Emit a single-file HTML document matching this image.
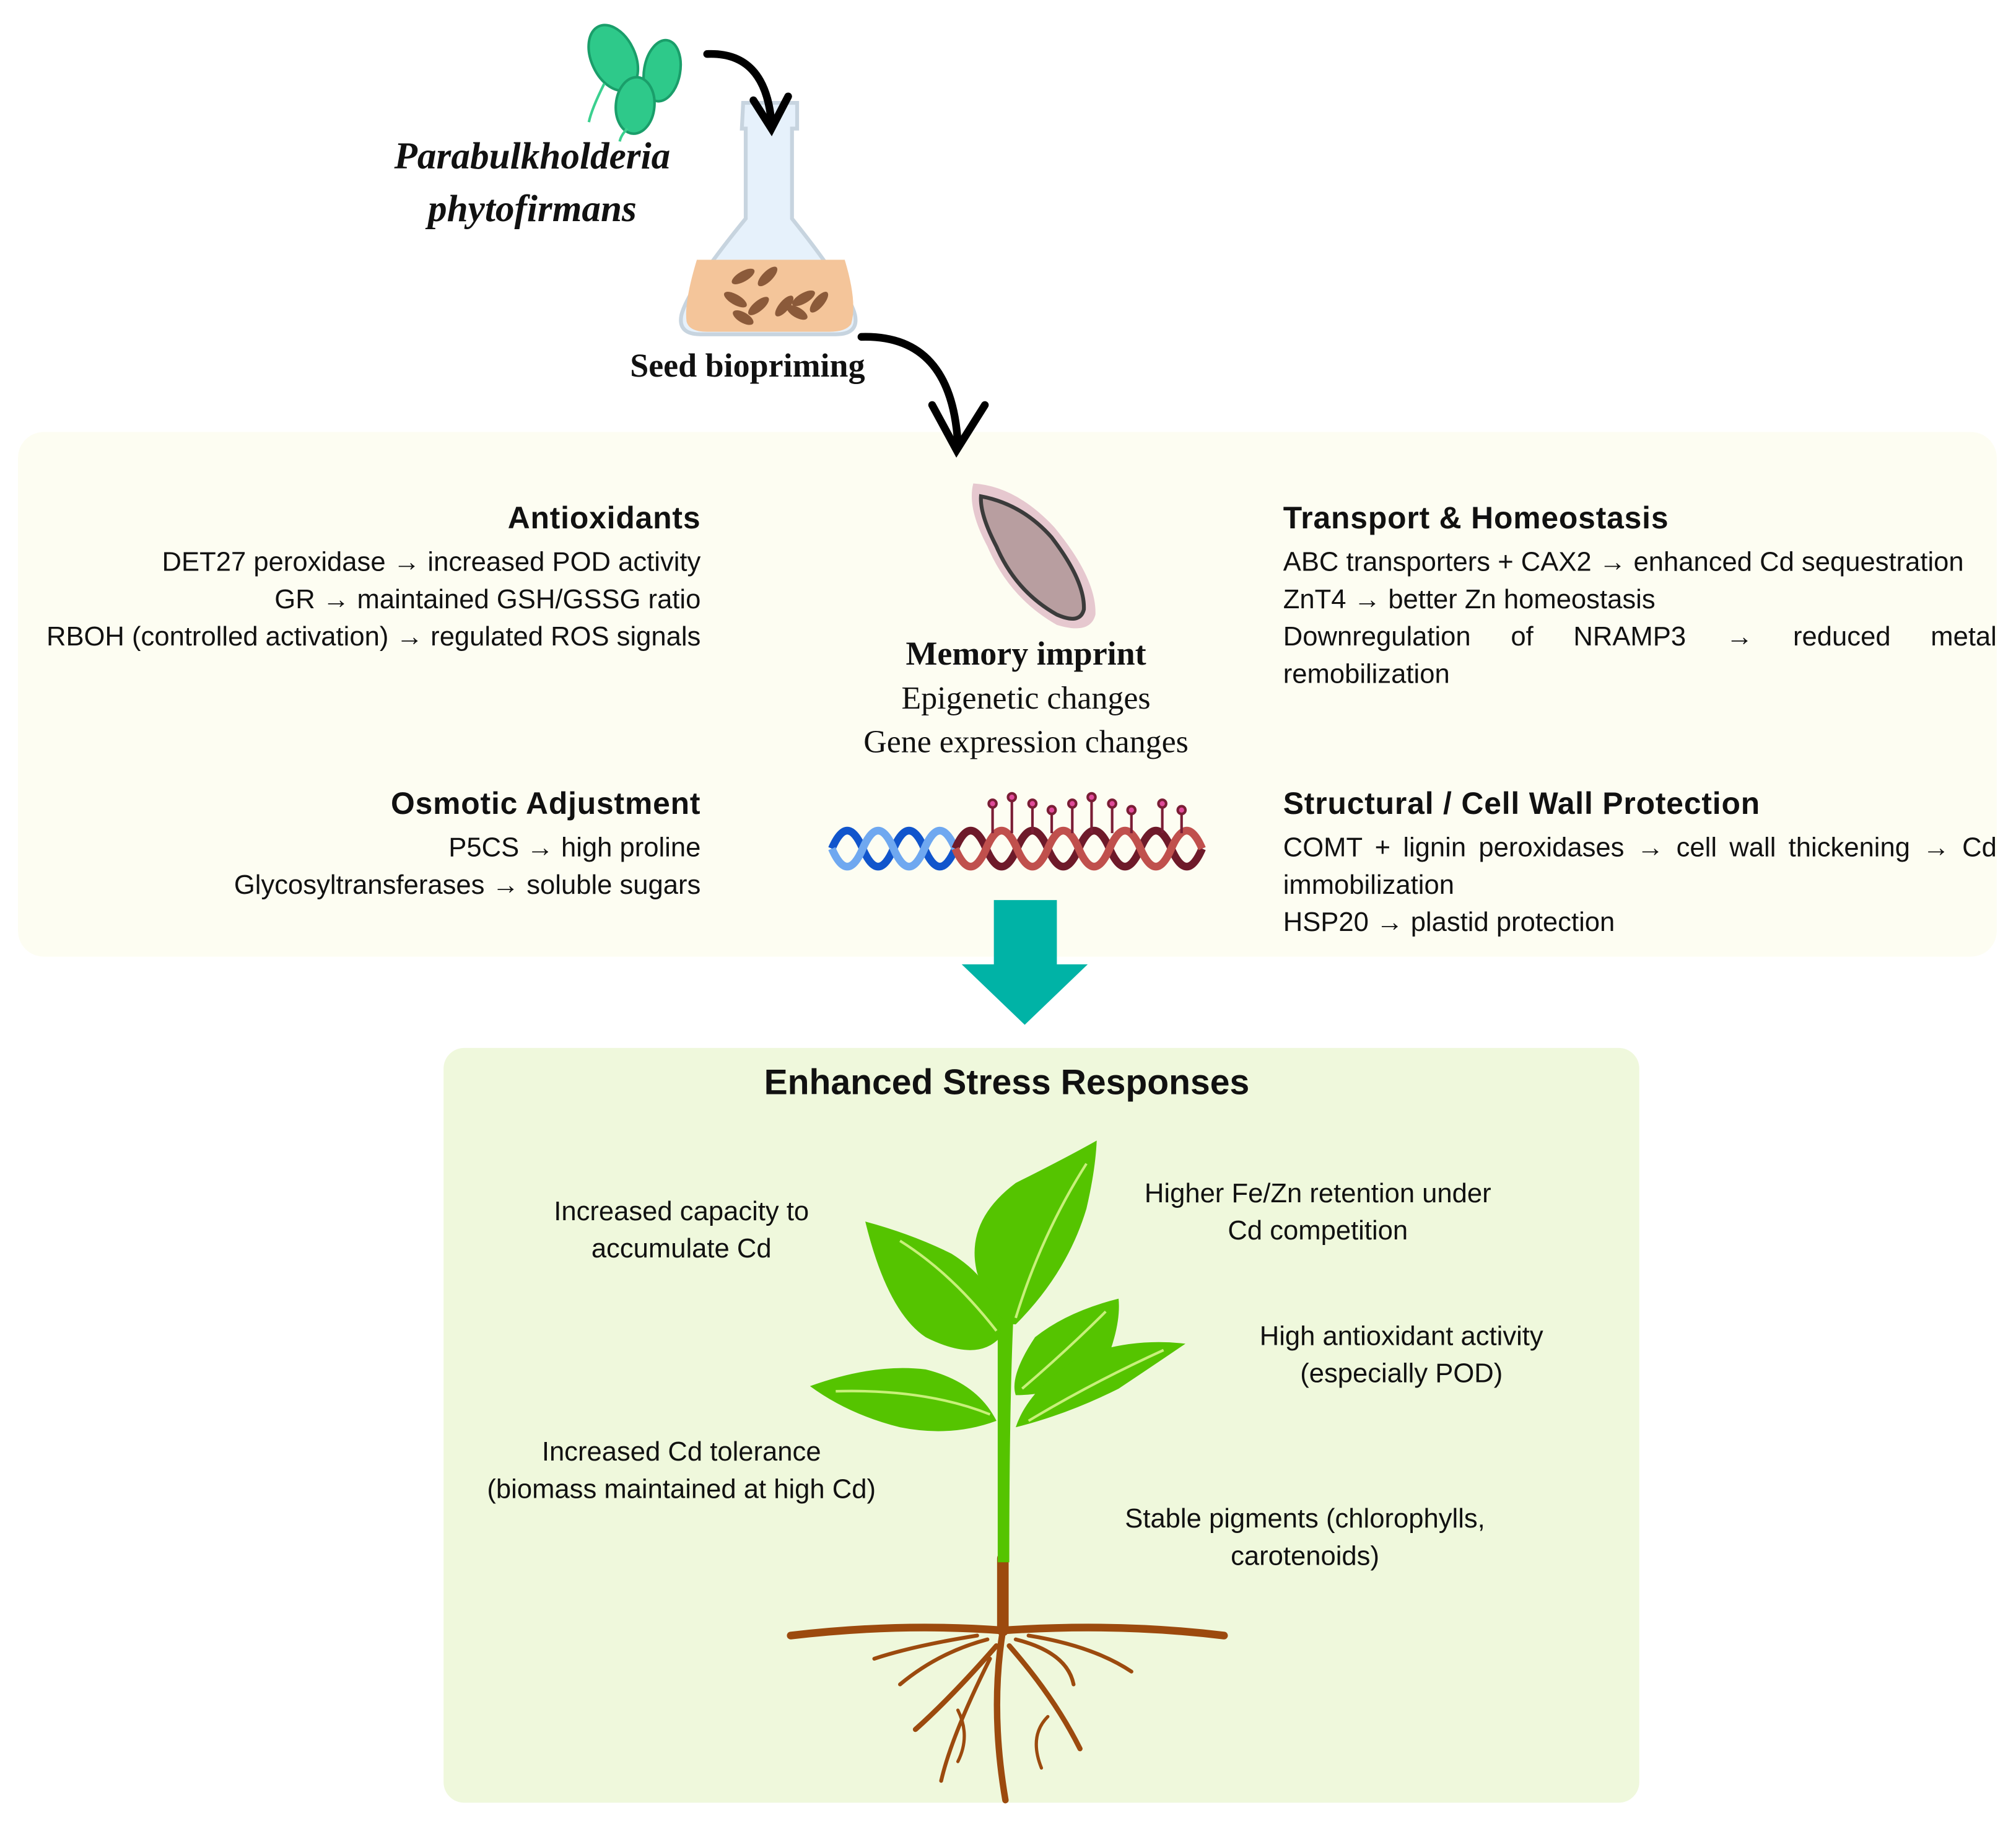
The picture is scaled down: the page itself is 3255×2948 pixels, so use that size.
<!DOCTYPE html>
<html><head><meta charset="utf-8"><style>
html,body{margin:0;padding:0;background:#fff;width:3255px;height:2948px;overflow:hidden}
#w{position:absolute;left:0;top:0;width:1568px;height:1420px;transform:scale(2.0759);transform-origin:0 0;font-family:"Liberation Sans","DejaVu Sans",sans-serif;color:#111}
.t{position:absolute;white-space:nowrap}
.r{text-align:right}
.h{font-weight:bold;font-size:24px;letter-spacing:0.4px;margin-bottom:5px;line-height:28px}
.l{font-size:21px;line-height:29px}
.s{font-family:"Liberation Serif",serif}
.j{width:555px;text-align:justify;text-align-last:justify}
</style></head><body><div id="w">
<div style="position:absolute;left:14px;top:336px;width:1539px;height:408px;background:#fdfdf2;border-radius:20px"></div>
<div style="position:absolute;left:345px;top:815px;width:930px;height:587px;background:#eff8dc;border-radius:16px"></div>

<svg style="position:absolute;left:0;top:0" width="1568" height="1420">
 <g fill="#2ec98a" stroke="#1a9e6a" stroke-width="2">
  <ellipse cx="477" cy="45" rx="17" ry="27" transform="rotate(-25 477 45)"/>
  <ellipse cx="515" cy="55" rx="14" ry="24" transform="rotate(10 515 55)"/>
  <ellipse cx="494" cy="82" rx="15" ry="22" transform="rotate(5 494 82)"/>
 </g>
 <g fill="none" stroke="#3bd08f" stroke-width="2"><path d="M470 65 q-10 20 -12 30"/><path d="M488 100 q-5 5 -6 10"/></g>
 <path d="M578 80 L620 80 L620 100 L616 100 L616 170 Q660 225 665 245 Q668 260 650 260 L545 260 Q527 260 530 245 Q535 225 580 170 L580 100 L577 100 Z" fill="#e6f1fb" stroke="#c7d4df" stroke-width="3"/>
 <path d="M542 202 L657 202 Q667 235 662 252 Q658 258 645 258 L550 258 Q536 258 534 250 Q532 235 542 202 Z" fill="#f4c59a"/>
 <g fill="#8b5a3a">
  <ellipse cx="578" cy="215" rx="10" ry="4" transform="rotate(-30 578 215)"/>
  <ellipse cx="597" cy="215" rx="10" ry="4" transform="rotate(-45 597 215)"/>
  <ellipse cx="572" cy="233" rx="10" ry="4" transform="rotate(30 572 233)"/>
  <ellipse cx="590" cy="238" rx="10" ry="4" transform="rotate(-40 590 238)"/>
  <ellipse cx="610" cy="238" rx="10" ry="4" transform="rotate(-50 610 238)"/>
  <ellipse cx="625" cy="232" rx="10" ry="4" transform="rotate(-30 625 232)"/>
  <ellipse cx="637" cy="235" rx="10" ry="4" transform="rotate(-50 637 235)"/>
  <ellipse cx="578" cy="247" rx="9" ry="4" transform="rotate(30 578 247)"/>
  <ellipse cx="620" cy="243" rx="9" ry="4" transform="rotate(30 620 243)"/>
 </g>
 <g fill="none" stroke="#000" stroke-width="6" stroke-linecap="round">
  <path d="M550 42 Q595 40 600 95"/><path d="M586 78 L600 100 L613 75"/>
  <path d="M670 262 Q740 260 745 345"/><path d="M725 315 L744 350 L766 315"/>
 </g>
 <path d="M757 376 Q790 378 820 410 Q853 450 852 478 Q848 494 822 486 Q785 465 768 425 Q752 395 757 376 Z" fill="#e6c8cf"/>
 <path d="M763 386 Q795 392 818 418 Q844 452 843 474 Q840 486 822 478 Q790 460 775 425 Q762 400 763 386 Z" fill="#b89ea0" stroke="#3b3b3b" stroke-width="3"/>
 <g fill="none" stroke-width="6">
  <path d="M647 660 q12 -28 24 0 t24 0 t24 0 t24 0" stroke="#1155cc"/>
  <path d="M647 660 q12 28 24 0 t24 0 t24 0 t24 0" stroke="#6fa8f0"/>
  <path d="M743 660 q12 -28 24 0 t24 0 t24 0 t24 0 t24 0 t24 0 t24 0 t24 0" stroke="#6e1a2a"/>
  <path d="M743 660 q12 28 24 0 t24 0 t24 0 t24 0 t24 0 t24 0 t24 0 t24 0" stroke="#c0504d"/>
 </g>
 <g stroke="#7a1d35" stroke-width="2" fill="#e04b9a">
  <line x1="772" y1="625" x2="772" y2="648"/><circle cx="772" cy="625" r="3"/>
  <line x1="787" y1="620" x2="787" y2="648"/><circle cx="787" cy="620" r="3"/>
  <line x1="803" y1="625" x2="803" y2="648"/><circle cx="803" cy="625" r="3"/>
  <line x1="818" y1="630" x2="818" y2="648"/><circle cx="818" cy="630" r="3"/>
  <line x1="834" y1="625" x2="834" y2="648"/><circle cx="834" cy="625" r="3"/>
  <line x1="849" y1="620" x2="849" y2="648"/><circle cx="849" cy="620" r="3"/>
  <line x1="865" y1="625" x2="865" y2="648"/><circle cx="865" cy="625" r="3"/>
  <line x1="880" y1="630" x2="880" y2="648"/><circle cx="880" cy="630" r="3"/>
  <line x1="904" y1="625" x2="904" y2="648"/><circle cx="904" cy="625" r="3"/>
  <line x1="919" y1="630" x2="919" y2="648"/><circle cx="919" cy="630" r="3"/>
 </g>
 <path d="M773 700 L822 700 L822 750 L846 750 L797 797 L748 750 L773 750 Z" fill="#00b3a6"/>
 <g fill="none" stroke="#9c4a0e" stroke-linecap="round">
  <path d="M780 1212 L780 1268" stroke-width="9"/>
  <path d="M615 1272 Q700 1262 780 1268 Q870 1262 952 1272" stroke-width="6"/>
  <path d="M780 1268 Q770 1330 782 1400" stroke-width="5"/>
  <path d="M775 1280 Q740 1320 712 1345" stroke-width="4"/>
  <path d="M785 1280 Q820 1320 840 1360" stroke-width="4"/>
  <path d="M770 1290 Q740 1350 732 1385" stroke-width="3"/>
  <path d="M790 1275 Q830 1285 835 1310" stroke-width="3"/>
  <path d="M768 1275 Q730 1285 700 1310" stroke-width="3"/>
  <path d="M800 1272 Q850 1280 880 1300" stroke-width="3"/>
  <path d="M760 1272 Q710 1280 680 1290" stroke-width="3"/>
  <path d="M815 1335 Q800 1350 810 1375" stroke-width="2.5"/>
  <path d="M745 1330 Q755 1350 745 1370" stroke-width="2.5"/>
 </g>
 <g fill="#55c400">
  <path d="M776 1215 L776 1000 Q778 960 790 940 L796 942 Q785 990 785 1215 Z"/>
  <path d="M853 887 Q830 900 790 920 Q750 950 760 990 Q775 1030 790 1030 Q830 990 845 940 Q852 910 853 887 Z"/>
  <path d="M673 950 Q690 1020 720 1040 Q760 1060 778 1040 Q780 1000 740 975 Q710 960 673 950 Z"/>
  <path d="M630 1078 Q680 1060 720 1065 Q760 1075 775 1105 Q740 1118 700 1110 Q660 1100 630 1078 Z"/>
  <path d="M870 1010 Q830 1020 805 1040 Q785 1070 790 1085 Q830 1085 860 1060 Q872 1030 870 1010 Z"/>
  <path d="M922 1045 Q880 1040 840 1055 Q800 1080 790 1110 Q830 1100 870 1080 Q900 1060 922 1045 Z"/>
 </g>
 <g fill="none" stroke="#c8f07a" stroke-width="2">
  <path d="M790 1025 Q810 960 845 905"/><path d="M775 1035 Q740 990 700 965"/>
  <path d="M770 1100 Q720 1080 650 1082"/><path d="M795 1080 Q830 1050 860 1020"/><path d="M800 1105 Q850 1075 905 1050"/>
 </g>
</svg>

<div class="t s" style="left:290px;top:102px;width:248px;text-align:center;font-size:29.5px;font-weight:bold;font-style:italic;line-height:41px">Parabulkholderia<br>phytofirmans</div>
<div class="t s" style="left:490px;top:270px;font-size:26px;font-weight:bold">Seed biopriming</div>

<div class="t r" style="right:1023px;top:390px"><div class="h">Antioxidants</div><div class="l">DET27 peroxidase → increased POD activity<br>GR → maintained GSH/GSSG ratio<br>RBOH (controlled activation) → regulated ROS signals</div></div>
<div class="t r" style="right:1023px;top:612px"><div class="h">Osmotic Adjustment</div><div class="l">P5CS → high proline<br>Glycosyltransferases → soluble sugars</div></div>
<div class="t" style="left:998px;top:390px"><div class="h">Transport &amp; Homeostasis</div><div class="l">ABC transporters + CAX2 → enhanced Cd sequestration<br>ZnT4 → better Zn homeostasis<div class="j">Downregulation of NRAMP3 → reduced metal</div>remobilization</div></div>
<div class="t" style="left:998px;top:612px"><div class="h">Structural / Cell Wall Protection</div><div class="l"><div class="j">COMT + lignin peroxidases → cell wall thickening → Cd</div>immobilization<br>HSP20 → plastid protection</div></div>

<div class="t s" style="left:623px;top:492px;width:350px;text-align:center;line-height:34px;font-size:25px"><b style="font-size:26px">Memory imprint</b><br>Epigenetic changes<br>Gene expression changes</div>

<div class="t" style="left:433px;top:826px;width:700px;text-align:center;font-size:27.5px;font-weight:bold">Enhanced Stress Responses</div>
<div class="t l" style="left:380px;top:928px;width:300px;text-align:center">Increased capacity to<br>accumulate Cd</div>
<div class="t l" style="left:340px;top:1115px;width:380px;text-align:center">Increased Cd tolerance<br>(biomass maintained at high Cd)</div>
<div class="t l" style="left:845px;top:914px;width:360px;text-align:center">Higher Fe/Zn retention under<br>Cd competition</div>
<div class="t l" style="left:935px;top:1025px;width:310px;text-align:center">High antioxidant activity<br>(especially POD)</div>
<div class="t l" style="left:835px;top:1167px;width:360px;text-align:center">Stable pigments (chlorophylls,<br>carotenoids)</div>
</div></body></html>
